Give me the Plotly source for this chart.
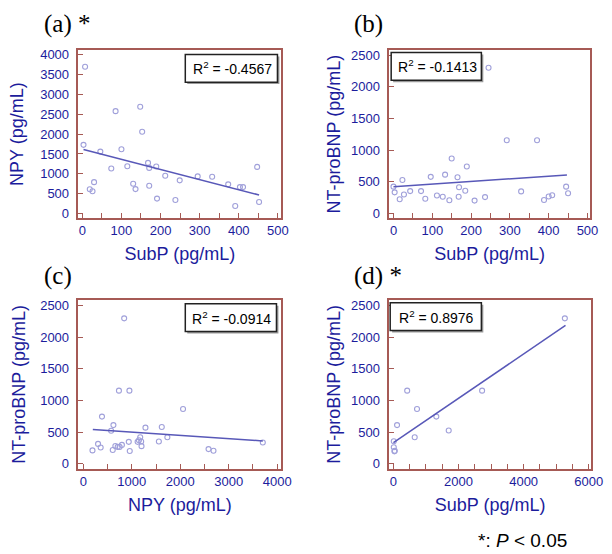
import plotly.graph_objects as go

# ---------------- data ----------------
subp_a = [7, 3, 85, 148, 153, 46, 100, 74, 115, 168, 171, 189, 212, 249, 295,
          332, 373, 403, 411, 447, 452, 391, 238, 191, 171, 136, 130, 30, 19, 26]
npy_a = [3700, 1730, 2580, 2690, 2060, 1560, 1620, 1135, 1190, 1275, 1150, 1185,
         950, 835, 935, 925, 735, 665, 665, 1175, 290, 190, 340, 375, 700, 615,
         750, 790, 610, 560]
fit_a_x = [3, 452]
fit_a_y = [1611, 467]

subp_b = [245, 292, 370, 150, 189, 133, 96, 165, 23, 0, 3, 16, 27, 43, 71, 82,
          112, 127, 144, 169, 168, 185, 209, 236, 329, 388, 400, 409, 445, 450]
bnp_b = [2300, 1155, 1155, 865, 740, 610, 575, 570, 525, 420, 330, 220, 295, 350,
         350, 230, 280, 260, 205, 410, 260, 355, 200, 255, 345, 210, 265, 285, 420, 315]
fit_b_x = [0, 447]
fit_b_y = [418, 605]

npy_c = [843, 735, 951, 2058, 385, 621, 1282, 1619, 574, 1734, 1174, 1147, 1194,
         1120, 938, 1559, 3704, 304, 189, 358, 607, 661, 709, 749, 796, 958, 1201,
         2584, 2686]
bnp_c = [2300, 1155, 1155, 865, 745, 610, 570, 580, 520, 418, 418, 370, 350, 345,
         345, 350, 335, 313, 210, 255, 215, 280, 265, 265, 297, 200, 277, 230, 204]
fit_c_x = [196, 3704]
fit_c_y = [540, 360]

subp_d = [5266, 2724, 422, 724, 1317, 111, 1698, 653, 10, 10, 40, 30]
bnp_d = [2300, 1155, 1155, 865, 745, 610, 525, 418, 355, 260, 205, 195]
fit_d_x = [0, 5286]
fit_d_y = [334, 2187]

r2_labels = ["R<sup>2</sup> = -0.4567", "R<sup>2</sup> = -0.1413",
             "R<sup>2</sup> = -0.0914", "R<sup>2</sup> = 0.8976"]
panel_labels = ["(a) *", "(b)", "(c)", "(d) *"]
x_titles = ["SubP (pg/mL)", "SubP (pg/mL)", "NPY (pg/mL)", "SubP (pg/mL)"]
y_titles = ["NPY (pg/mL)", "NT-proBNP (pg/mL)", "NT-proBNP (pg/mL)", "NT-proBNP (pg/mL)"]

# ---------------- styling ----------------
W, H = 612, 554
FRAME = "#a65a55"
TXT = "#1c1c9c"
MARK = "#a0a0da"
LINE = "#5858b8"
SANS = "Liberation Sans, Arial, sans-serif"
SERIF = "Liberation Serif, Times New Roman, serif"

# plot frames in pixels (left, right, top, bottom)
frames = [(80, 287, 48, 217), (397, 602, 48, 217),
          (80, 287, 300, 471), (397, 603, 300, 471)]
xranges = [[-10, 509], [-11, 507], [-101, 4087], [-130, 6075]]
yranges = [[-105, 4110], [-70, 2574], [-83, 2594], [-83, 2594]]
xdticks = [100, 100, 1000, 2000]
xminor = [50, 50, 500, 500]
ydticks = [500, 500, 500, 500]
ystandoff = [12, 6, 10, 6]

xs = [subp_a, subp_b, npy_c, subp_d]
ys = [npy_a, bnp_b, bnp_c, bnp_d]
fxs = [fit_a_x, fit_b_x, fit_c_x, fit_d_x]
fys = [fit_a_y, fit_b_y, fit_c_y, fit_d_y]

fig = go.Figure()
layout = dict(width=W, height=H, margin=dict(l=0, r=0, t=0, b=0),
              paper_bgcolor="white", plot_bgcolor="white", showlegend=False,
              annotations=[], shapes=[])

box_px = [(189, 283, 52, 80), (399, 491, 50, 78), (189, 282, 304, 332), (398, 491, 303, 331)]
lab_px = [(43, 21), (359, 21), (43, 276), (359, 276)]

for i in range(4):
    n = "" if i == 0 else str(i + 1)
    xa, ya = "x" + n, "y" + n
    l, r, t, b = frames[i]
    fig.add_trace(go.Scatter(x=xs[i], y=ys[i], mode="markers", xaxis=xa, yaxis=ya,
                             marker=dict(symbol="circle-open", size=5,
                                         color=MARK, line=dict(width=1.1, color=MARK))))
    fig.add_trace(go.Scatter(x=fxs[i], y=fys[i], mode="lines", xaxis=xa, yaxis=ya,
                             line=dict(color=LINE, width=1.5)))
    common = dict(showgrid=False, zeroline=False, showline=True, mirror=True,
                  linecolor=FRAME, linewidth=1.5, ticks="inside", ticklen=5,
                  tickwidth=1.2, tickcolor=FRAME,
                  tickfont=dict(family=SANS, size=13, color=TXT))
    layout["xaxis" + n] = dict(common, domain=[l / W, r / W], range=xranges[i],
                               anchor=ya, tick0=0, dtick=xdticks[i],
                               minor=dict(ticks="inside", dtick=xminor[i], tick0=0,
                                          ticklen=5, tickwidth=1.2, tickcolor=FRAME),
                               ticklabelstandoff=0,
                               title=dict(text=x_titles[i], standoff=10,
                                          font=dict(family=SANS, size=18, color=TXT)))
    layout["yaxis" + n] = dict(common, domain=[1 - b / H, 1 - t / H], range=yranges[i],
                               anchor=xa, tick0=0, dtick=ydticks[i],
                               ticklabelstandoff=5,
                               title=dict(text=y_titles[i], standoff=ystandoff[i],
                                          font=dict(family=SANS, size=18, color=TXT)))
    bl, br, bt, bb = box_px[i]
    cx, cy = (bl + br) / 2, (bt + bb) / 2
    # box shadow and box
    layout["shapes"].append(dict(
        type="rect", xref="paper", yref="paper",
        x0=(bl + 2) / W, x1=(br + 2) / W, y0=1 - (bb + 2) / H, y1=1 - (bt + 2) / H,
        fillcolor="#9a9a9a", line=dict(width=0), layer="above"))
    layout["shapes"].append(dict(
        type="rect", xref="paper", yref="paper",
        x0=bl / W, x1=br / W, y0=1 - bb / H, y1=1 - bt / H,
        fillcolor="white", line=dict(width=1.5, color="#222222"), layer="above"))
    layout["annotations"].append(dict(
        x=(cx + 1) / W, y=1 - cy / H, xref="paper", yref="paper",
        text=r2_labels[i], showarrow=False, font=dict(family=SANS, size=14, color="black"),
        xanchor="center", yanchor="middle"))
    lx, ly = lab_px[i]
    layout["annotations"].append(dict(
        x=lx / W, y=1 - ly / H, xref="paper", yref="paper", text=panel_labels[i],
        showarrow=False, font=dict(family=SERIF, size=25, color="black"),
        xanchor="left", yanchor="middle"))

layout["annotations"].append(dict(
    x=486 / W, y=1 - 543 / H, xref="paper", yref="paper",
    text="*: <i>P</i> &lt; 0.05", showarrow=False,
    font=dict(family=SANS, size=19, color="black"), xanchor="left", yanchor="middle"))

fig.update_layout(**layout)
fig.write_html("out.html", config={"displayModeBar": False},
               post_script="document.body.style.margin='0';document.body.style.padding='0';")
